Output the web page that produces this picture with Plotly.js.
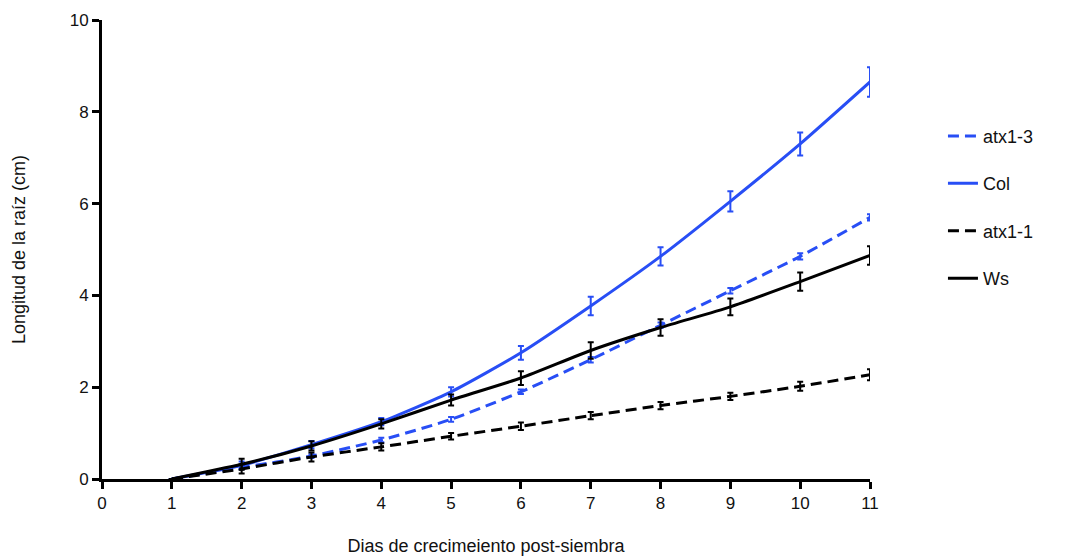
<!DOCTYPE html>
<html>
<head>
<meta charset="utf-8">
<script src="https://cdn.plot.ly/plotly-3.0.1.min.js"></script>
<style>html,body{margin:0;padding:0;background:#fff;}#chart{width:1066px;height:556px;}</style>
</head>
<body>
<div id="chart"></div>
<script>
var days = [1, 2, 3, 4, 5, 6, 7, 8, 9, 10, 11];

var atx13 = [0, 0.25, 0.5, 0.85, 1.3, 1.9, 2.6, 3.35, 4.1, 4.85, 5.7];
var atx13Err = [0, 0.04, 0.04, 0.05, 0.05, 0.05, 0.06, 0.06, 0.06, 0.07, 0.07];

var col = [0, 0.3, 0.75, 1.25, 1.9, 2.75, 3.77, 4.85, 6.05, 7.3, 8.65];
var colErr = [0, 0.08, 0.08, 0.08, 0.1, 0.15, 0.2, 0.2, 0.22, 0.25, 0.32];

var atx11 = [0, 0.22, 0.48, 0.7, 0.93, 1.15, 1.38, 1.6, 1.8, 2.02, 2.27];
var atx11Err = [0, 0.1, 0.1, 0.08, 0.07, 0.08, 0.08, 0.08, 0.08, 0.1, 0.12];

var ws = [0, 0.32, 0.72, 1.2, 1.72, 2.2, 2.8, 3.3, 3.75, 4.3, 4.87];
var wsErr = [0, 0.12, 0.1, 0.1, 0.12, 0.15, 0.18, 0.18, 0.18, 0.2, 0.2];

var names = ['atx1-3', 'Col', 'atx1-1', 'Ws'];
var xTickVals = [0, 1, 2, 3, 4, 5, 6, 7, 8, 9, 10, 11];
var yTickVals = [0, 2, 4, 6, 8, 10];

var blue = 'rgb(40,78,245)';
var black = 'rgb(0,0,0)';

function mk(name, y, err, color, dash) {
  return {
    x: days, y: y, name: name, legendgroup: name,
    type: 'scatter', mode: 'lines', cliponaxis: false,
    line: {color: color, width: 3, dash: dash, shape: 'spline', smoothing: 0.6},
    error_y: {type: 'data', array: err, visible: true, color: color, thickness: 2, width: 3}
  };
}

var data = [
  mk(names[0], atx13, atx13Err, blue, '11px,6px'),
  mk(names[1], col, colErr, blue, 'solid'),
  mk(names[2], atx11, atx11Err, black, '11px,6px'),
  mk(names[3], ws, wsErr, black, 'solid')
];

var layout = {
  width: 1066, height: 556,
  margin: {l: 102, r: 196, t: 20, b: 77},
  paper_bgcolor: '#fff', plot_bgcolor: '#fff',
  font: {family: 'Liberation Sans, Arial, sans-serif', color: '#111', size: 17},
  showlegend: true,
  legend: {x: 1.095, y: 0.787, xanchor: 'left', yanchor: 'top', tracegroupgap: 21,
           font: {size: 18, color: '#111'}, bgcolor: 'rgba(0,0,0,0)'},
  xaxis: {
    range: [0, 11], tickvals: xTickVals, ticktext: xTickVals.map(String),
    showline: true, linewidth: 3, linecolor: '#000', showgrid: false, zeroline: false,
    ticks: 'outside', ticklen: 7, tickwidth: 3, tickcolor: '#000',
    tickfont: {size: 17},
    title: {text: 'Dias de crecimeiento post-siembra', font: {size: 18}, standoff: 28}
  },
  yaxis: {
    range: [0, 10], tickvals: yTickVals, ticktext: yTickVals.map(String),
    showline: true, linewidth: 3, linecolor: '#000', showgrid: false, zeroline: false,
    ticks: 'outside', ticklen: 7, tickwidth: 3, tickcolor: '#000',
    tickfont: {size: 17},
    title: {text: 'Longitud de la raíz (cm)', font: {size: 18}, standoff: 40}
  }
};

Plotly.newPlot('chart', data, layout, {displayModeBar: false, staticPlot: true});
</script>
</body>
</html>
